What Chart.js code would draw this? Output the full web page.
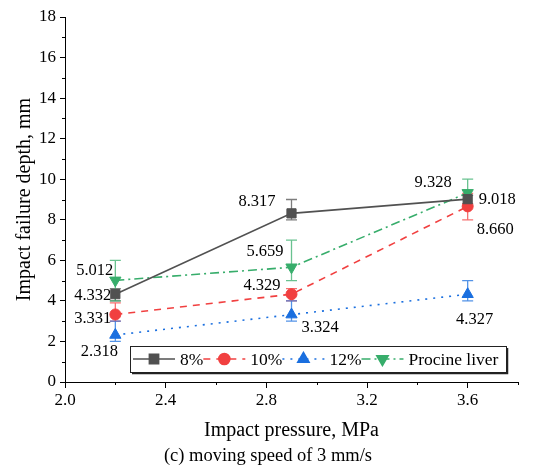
<!DOCTYPE html>
<html>
<head>
<meta charset="utf-8">
<script src="https://cdn.jsdelivr.net/npm/chart.js@4.4.1/dist/chart.umd.min.js"></script>
<style>
  html,body{margin:0;padding:0;background:#fff;}
  #wrap{width:533px;height:469px;}
</style>
</head>
<body>
<div id="wrap"><canvas id="c" width="533" height="469"></canvas></div>
<script>
/* Impact failure depth vs impact pressure, moving speed 3 mm/s */
const pressure=[2.2,2.9,3.6];
const seriesNames=['8%','10%','12%','Procine liver'];
const depth8=[4.332,8.317,9.018];
const depth10=[3.331,4.329,8.660];
const depth12=[2.318,3.324,4.327];
const depthLiver=[5.012,5.659,9.328];
// error bar ends
const low8=[4.0,8.0,8.8],   high8=[4.6,9.0,9.2];
const low10=[3.0,4.0,8.0],  high10=[3.9,4.6,9.3];
const low12=[2.0,3.0,4.0],  high12=[3.0,4.0,5.0];
const lowLiver=[4.0,5.0,8.7], highLiver=[6.0,7.0,10.0];

const FONT="'Liberation Serif', serif";
Chart.defaults.font.family=FONT;
Chart.defaults.color='#000';
const COLORS=['#515151','#F14040','#1A6FDF','#37AD6B'];
const DASH=[[],[7,6],[2,6],[9,4,2,4]];
const STYLE=[{ps:'rect',r:6.5,rot:0},{ps:'circle',r:5.5,rot:0},{ps:'triangle',r:6.5,rot:0},{ps:'triangle',r:6.5,rot:180}];

// label placement per series/point: [dx, dy, align]
const LBL=[
  [[-4,2,'right'],[-16,-12,'right'],[11,1,'left']],
  [[-4,4,'right'],[-11,-9,'right'],[9,23,'left']],
  [[-16,17,'center'],[10,13,'left'],[7,25,'center']],
  [[-2,-10,'right'],[-8,-16,'right'],[-16,-10,'right']]
];

const values=[depth8,depth10,depth12,depthLiver];
const lows=[low8,low10,low12,lowLiver];
const highs=[high8,high10,high12,highLiver];

function alpha(hex,a){
  const n=parseInt(hex.slice(1),16);
  return `rgba(${n>>16},${(n>>8)&255},${n&255},${a})`;
}

const datasets=values.map((v,i)=>({
  label:seriesNames[i],
  data:pressure.map((x,j)=>({x,y:v[j]})),
  borderColor:COLORS[i],backgroundColor:COLORS[i],
  borderWidth:1.6,borderDash:DASH[i],
  pointStyle:STYLE[i].ps,pointRadius:STYLE[i].r,pointRotation:STYLE[i].rot,
  pointBackgroundColor:COLORS[i],pointBorderColor:COLORS[i],pointBorderWidth:1,
  tension:0
}));

const errorBars={
  id:'errorBars',
  beforeDatasetsDraw(chart){
    const {ctx,scales:{x,y}}=chart;
    ctx.save(); ctx.lineWidth=1.3; ctx.setLineDash([]);
    values.forEach((v,i)=>{
      ctx.strokeStyle=alpha(COLORS[i],0.75);
      pressure.forEach((p,j)=>{
        const px=x.getPixelForValue(p),y1=y.getPixelForValue(lows[i][j]),y2=y.getPixelForValue(highs[i][j]);
        ctx.beginPath();
        ctx.moveTo(px,y1); ctx.lineTo(px,y2);
        ctx.moveTo(px-5.5,y1); ctx.lineTo(px+5.5,y1);
        ctx.moveTo(px-5.5,y2); ctx.lineTo(px+5.5,y2);
        ctx.stroke();
      });
    });
    ctx.restore();
  }
};

const decor={
  id:'decor',
  afterDraw(chart){
    const {ctx,chartArea:a,scales:{x,y}}=chart;
    ctx.save();
    // minor ticks
    ctx.strokeStyle='#000'; ctx.lineWidth=1; ctx.setLineDash([]);
    y.ticks.forEach(t=>{ if(t.value%2){ const py=Math.round(y.getPixelForValue(t.value))+.5;
      ctx.beginPath(); ctx.moveTo(a.left-3,py); ctx.lineTo(a.left,py); ctx.stroke(); }});
    x.ticks.forEach((t,k)=>{ if(k%2){ const px=Math.round(x.getPixelForValue(t.value))+.5;
      ctx.beginPath(); ctx.moveTo(px,a.bottom); ctx.lineTo(px,a.bottom+3); ctx.stroke(); }});

    // data labels
    ctx.fillStyle='#000'; ctx.font='16.5px '+FONT; ctx.textBaseline='middle';
    chart.data.datasets.forEach((ds,i)=>{
      chart.getDatasetMeta(i).data.forEach((pt,j)=>{
        const [dx,dy,al]=LBL[i][j];
        ctx.textAlign=al;
        ctx.fillText(values[i][j].toFixed(3),pt.x+dx,pt.y+dy);
      });
    });

    // legend box
    const bx=130,by=346,bw=376,bh=26;
    ctx.fillStyle='#fff'; ctx.fillRect(bx,by,bw,bh);
    ctx.strokeStyle='#222'; ctx.lineWidth=1;
    ctx.strokeRect(bx+.5,by+.5,bw,bh);
    ctx.lineWidth=1.5;
    ctx.beginPath(); ctx.moveTo(bx+2,by+bh+1.5); ctx.lineTo(bx+bw+1.5,by+bh+1.5); ctx.lineTo(bx+bw+1.5,by+2); ctx.stroke();
    ctx.font='17.5px '+FONT; ctx.textAlign='left';
    let lx=bx+3; const ly=by+13;
    seriesNames.forEach((n,i)=>{
      ctx.strokeStyle=COLORS[i]; ctx.lineWidth=1.6; ctx.setLineDash(DASH[i]);
      ctx.beginPath(); ctx.moveTo(lx,ly); ctx.lineTo(lx+42,ly); ctx.stroke();
      ctx.setLineDash([]);
      ctx.fillStyle=COLORS[i];
      Chart.helpers.drawPoint(ctx,{pointStyle:STYLE[i].ps,rotation:STYLE[i].rot,radius:STYLE[i].r,borderWidth:1},lx+21,ly);
      ctx.fillStyle='#000';
      ctx.fillText(n,lx+47,ly+1);
      lx+=47+ctx.measureText(n).width;
    });

    // axis titles and caption
    ctx.fillStyle='#000'; ctx.textAlign='center';
    ctx.font='20px '+FONT;
    ctx.fillText('Impact pressure, MPa',(a.left+a.right)/2,431);
    ctx.save(); ctx.translate(25,(a.top+a.bottom)/2); ctx.rotate(-Math.PI/2);
    ctx.fillText('Impact failure depth, mm',0,0); ctx.restore();
    ctx.font='18.5px '+FONT;
    ctx.fillText('(c) moving speed of 3 mm/s',268,456);
    ctx.restore();
  }
};

new Chart(document.getElementById('c'),{
  type:'line',
  data:{datasets},
  options:{
    responsive:false,animation:false,devicePixelRatio:1,
    layout:{padding:{top:17,right:15,left:0,bottom:0}},
    plugins:{legend:{display:false},tooltip:{enabled:false}},
    scales:{
      x:{type:'linear',min:2,max:3.8,
        afterFit(s){ s.height=87; },
        ticks:{stepSize:0.2,color:'#000',font:{family:FONT,size:17},padding:2,maxRotation:0,autoSkip:false,
          callback:(v,k)=>k%2?'':Number(v).toFixed(1)},
        grid:{drawOnChartArea:false,tickLength:6,tickColor:c=>c.index%2?'rgba(0,0,0,0)':'#000'},
        border:{color:'#000',width:1}},
      y:{min:0,max:18,
        afterFit(s){ s.width=65; },
        ticks:{stepSize:1,color:'#000',font:{family:FONT,size:17},padding:4,autoSkip:false,
          callback:v=>v%2?'':String(v)},
        grid:{drawOnChartArea:false,tickLength:5,tickColor:c=>c.tick&&c.tick.value%2?'rgba(0,0,0,0)':'#000'},
        border:{color:'#000',width:1}}
    }
  },
  plugins:[errorBars,decor]
});
</script>
</body>
</html>
